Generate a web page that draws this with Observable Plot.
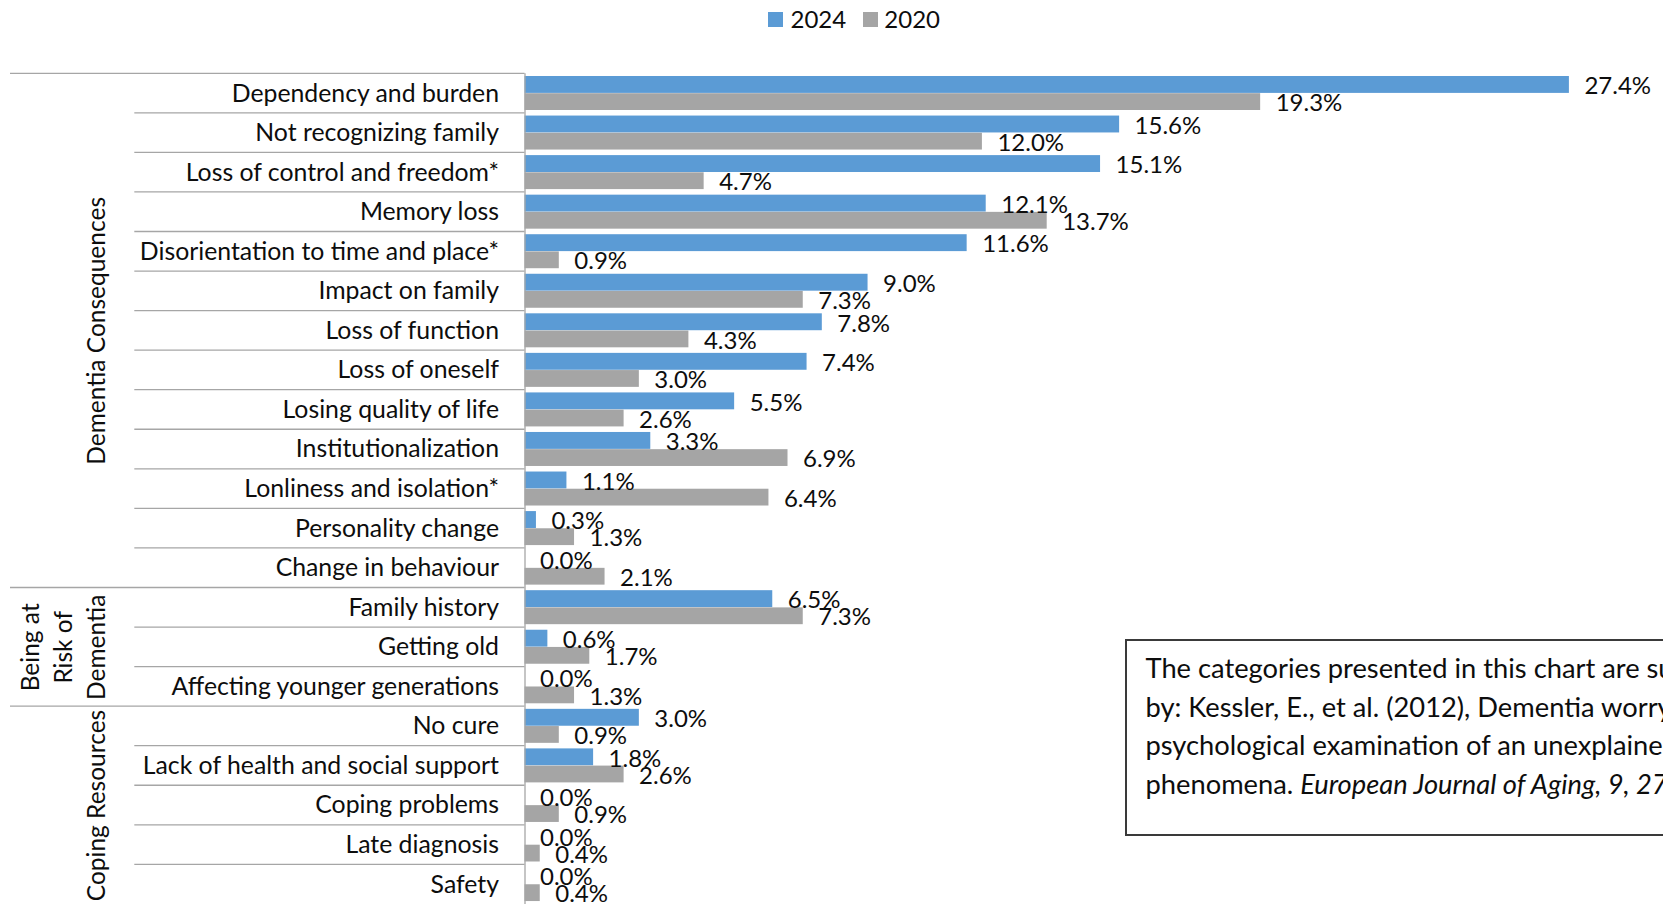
<!DOCTYPE html>
<html>
<head>
<meta charset="utf-8">
<script src="https://cdn.jsdelivr.net/npm/d3@7"></script>
<script src="https://cdn.jsdelivr.net/npm/@observablehq/plot@0.6"></script>
<style>
  html, body { margin:0; padding:0; background:#fff; width:1663px; height:905px; overflow:hidden; }
  body { position:relative; font-family: Lato, "Open Sans", sans-serif; color:#0d0d0d; }
  #legend { position:relative; width:1663px; height:48px; font-size:24px; }
  #legend .sw { position:absolute; top:12px; width:14.5px; height:14.5px; }
  #legend .lb { position:absolute; top:4px; line-height:30px; }
  #chart svg { display:block; }
  #note { position:absolute; left:1125px; top:638.5px; width:780px; height:197.5px; box-sizing:border-box;
          border:2px solid #3a3a3a; background:#fff; padding:8.5px 0 0 18.5px; font-size:27.3px;
          line-height:38.5px; white-space:nowrap; }
</style>
</head>
<body>
<div id="legend"></div>
<div id="chart"></div>
<div id="note">The categories presented in this chart are suggested<br>by: Kessler, E., et al. (2012), Dementia worry: a<br>psychological examination of an unexplained<br>phenomena. <i>European Journal of Aging, 9, 275–284.</i></div>
<script>
const categories = [
  "Dependency and burden", "Not recognizing family", "Loss of control and freedom*", "Memory loss",
  "Disorientation to time and place*", "Impact on family", "Loss of function", "Loss of oneself",
  "Losing quality of life", "Institutionalization", "Lonliness and isolation*", "Personality change",
  "Change in behaviour", "Family history", "Getting old", "Affecting younger generations", "No cure",
  "Lack of health and social support", "Coping problems", "Late diagnosis", "Safety"
];
const values2024 = [27.4, 15.6, 15.1, 12.1, 11.6, 9.0, 7.8, 7.4, 5.5, 3.3, 1.1, 0.3, 0.0, 6.5, 0.6, 0.0, 3.0, 1.8, 0.0, 0.0, 0.0];
const values2020 = [19.3, 12.0, 4.7, 13.7, 0.9, 7.3, 4.3, 3.0, 2.6, 6.9, 6.4, 1.3, 2.1, 7.3, 1.7, 1.3, 0.9, 2.6, 0.9, 0.4, 0.4];
const groupNames = ["Dementia Consequences", "Being at\nRisk of\nDementia", "Coping Resources"];
const groupSizes = [13, 3, 5];
const seriesNames = ["2024", "2020"];
const seriesColors = ["#5B9BD5", "#A5A5A5"];
const xMax = 30;

// legend
const legendPos = [[768, 790.5], [863.3, 884.3]];
const legend = document.getElementById("legend");
seriesNames.forEach((s, i) => {
  const sw = document.createElement("div");
  sw.className = "sw"; sw.style.left = legendPos[i][0] + "px"; sw.style.background = seriesColors[i];
  const lb = document.createElement("div");
  lb.className = "lb"; lb.style.left = legendPos[i][1] + "px"; lb.textContent = s;
  legend.appendChild(sw); legend.appendChild(lb);
});

const rows = categories.map((c, i) => ({cat: c, v2024: values2024[i], v2020: values2020[i]}));
let start = 0;
const groups = groupNames.map((g, k) => {
  const n = groupSizes[k];
  const o = {name: g, first: categories[start], mid: categories[start + Math.floor(n / 2)]};
  start += n;
  return o;
});

const W = 1668, H = 857, mt = 25.3, mb = 1.1, ml = 524.5, mr = 0;
const bw = (H - mt - mb) / categories.length;
const fmt = v => v.toFixed(1) + "%";
const ink = "#0d0d0d";

const chart = Plot.plot({
  width: W, height: H, marginTop: mt, marginBottom: mb, marginLeft: ml, marginRight: mr,
  style: {fontFamily: "Lato, sans-serif", fontSize: "24px", color: ink, background: "transparent", overflow: "visible", maxWidth: "none"},
  x: {domain: [0, xMax], axis: null},
  y: {type: "band", domain: categories, padding: 0, round: false, axis: null},
  marks: [
    Plot.barX(rows, {y: "cat", x: "v2024", fill: seriesColors[0], insetTop: 2.7, insetBottom: bw - 19.6}),
    Plot.barX(rows, {y: "cat", x: "v2020", fill: seriesColors[1], insetTop: 19.9, insetBottom: bw - 36.7}),
    Plot.ruleX([0], {stroke: "#a6a6a6", strokeWidth: 1.3}),
    Plot.text(rows, {y: "cat", x: "v2024", text: d => fmt(d.v2024), textAnchor: "start", dx: 15, dy: 12.7 - bw / 2, fontSize: 24, fill: ink}),
    Plot.text(rows, {y: "cat", x: "v2020", text: d => fmt(d.v2020), textAnchor: "start", dx: 15, dy: 29.8 - bw / 2, fontSize: 24, fill: ink}),
    Plot.text(categories, {y: d => d, text: d => d, frameAnchor: "left", textAnchor: "end", dx: -26, fontSize: 24.8, fill: ink}),
    Plot.text(groups, {y: "mid", text: "name", frameAnchor: "left", textAnchor: "middle", lineAnchor: "bottom",
                       rotate: -90, dx: 104 - ml, lineHeight: 1.34, fontSize: 24.5, fill: ink})
  ]
});
document.getElementById("chart").appendChild(chart);

// row separators in the label area, positioned with the chart's own y scale
const ys = chart.scale("y");
const band = ys.bandwidth || bw;
let off = 0;
if (Math.abs(ys.apply(categories[0]) - mt) > band / 4) off = -band / 2;
const groupStarts = new Set(groups.map(g => g.first));
const sep = d3.select(chart).append("g").attr("stroke", "#a6a6a6").attr("stroke-width", 1.3);
categories.forEach(c => {
  const y = ys.apply(c) + off;
  sep.append("line").attr("x1", groupStarts.has(c) ? 10 : 134.3).attr("x2", ml).attr("y1", y).attr("y2", y);
});
</script>
</body>
</html>
